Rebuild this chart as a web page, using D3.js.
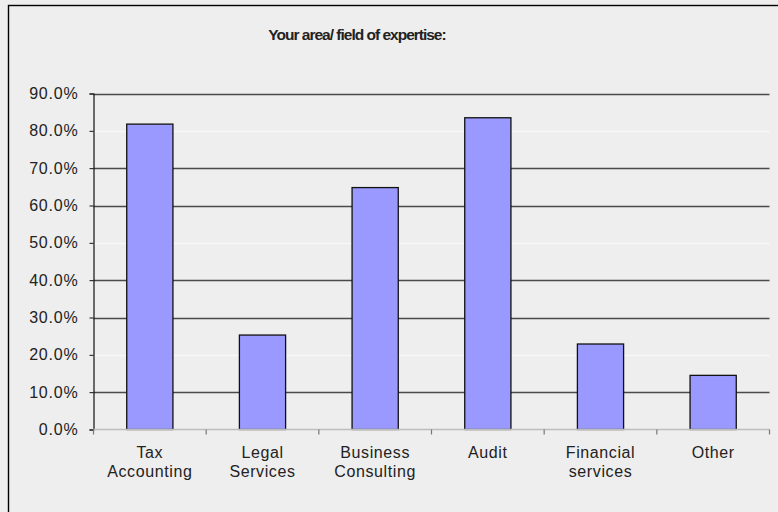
<!DOCTYPE html>
<html>
<head>
<meta charset="utf-8">
<script src="https://cdn.jsdelivr.net/npm/d3@7"></script>
<style>
  html, body { margin: 0; padding: 0; background: #eeeeee; }
  svg { display: block; }
  text { font-family: "Liberation Sans", Arial, sans-serif; fill: #222; }
</style>
</head>
<body>
<svg id="chart" width="778" height="512"></svg>
<script>
// Survey answers: share of respondents per area of expertise
const categories = [
  ["Tax", "Accounting"],
  ["Legal", "Services"],
  ["Business", "Consulting"],
  ["Audit"],
  ["Financial", "services"],
  ["Other"]
];
const values = [0.818, 0.253, 0.648, 0.835, 0.229, 0.145];
const yTicks = [0, 0.1, 0.2, 0.3, 0.4, 0.5, 0.6, 0.7, 0.8, 0.9];
const titleText = "Your area/ field of expertise:";

const W = 778, H = 512;
const plot = { left: 93.5, right: 769.5, top: 93.5, bottom: 429.5 };

const svg = d3.select("#chart");

// outer frame (runs off the right and bottom edges)
svg.append("rect")
  .attr("x", 8.5).attr("y", 5.5)
  .attr("width", W + 20).attr("height", H + 20)
  .attr("fill", "#eeeeee")
  .attr("stroke", "#000").attr("stroke-width", 1.4);

svg.append("text")
  .attr("x", 357).attr("y", 40)
  .attr("text-anchor", "middle")
  .attr("font-weight", "bold")
  .attr("font-size", 15.5)
  .attr("letter-spacing", -1)
  .attr("fill", "#111")
  .text(titleText);

const keys = categories.map(c => c.join(" "));
const x = d3.scaleBand().domain(keys)
  .range([plot.left, plot.right]).paddingInner(0.59).paddingOuter(0.295);
const xOuter = d3.scaleBand().domain(keys).range([plot.left, plot.right]);
const y = d3.scaleLinear().domain([0, 0.9]).range([plot.bottom, plot.top]);

// horizontal gridlines
svg.append("g").selectAll("line")
  .data(yTicks.filter(t => t > 0))
  .join("line")
  .attr("x1", plot.left).attr("x2", plot.right)
  .attr("y1", d => Math.round(y(d)) + 0.5).attr("y2", d => Math.round(y(d)) + 0.5)
  .attr("stroke", (d, i) => (i % 3 === 1 ? "#f8f8f8" : "#4a4a4a"))
  .attr("stroke-width", (d, i) => (i % 3 === 1 ? 1.6 : 1.3));

// bars
svg.append("g").selectAll("rect")
  .data(values)
  .join("rect")
  .attr("x", (d, i) => x(keys[i]))
  .attr("width", x.bandwidth())
  .attr("y", d => y(d))
  .attr("height", d => y(0) - y(d))
  .attr("fill", "#9999ff")
  .attr("stroke", "#111")
  .attr("stroke-width", 1.3);

// y axis
const yAxis = d3.axisLeft(y).tickValues(yTicks)
  .tickFormat(d3.format(".1%")).tickSize(4).tickPadding(11);
const gy = svg.append("g").attr("transform", `translate(${plot.left},0)`).call(yAxis);
gy.select(".domain").attr("stroke", "#111").attr("stroke-width", 1.2);
gy.selectAll(".tick line").attr("stroke", "#111");
gy.selectAll(".tick text")
  .attr("font-size", 16).attr("letter-spacing", 0.8)
  .attr("font-family", "Liberation Sans, Arial, sans-serif").attr("fill", "#2a2a2a");

// x axis: category boundary ticks
const xAxisLine = svg.append("g");
xAxisLine.append("line")
  .attr("x1", plot.left).attr("x2", plot.right)
  .attr("y1", plot.bottom).attr("y2", plot.bottom)
  .attr("stroke", "#bdbdbd").attr("stroke-width", 1.4);
const bounds = keys.map(k => xOuter(k)).concat([plot.right]);
xAxisLine.selectAll("line.b")
  .data(bounds)
  .join("line").attr("class", "b")
  .attr("x1", d => d).attr("x2", d => d)
  .attr("y1", plot.bottom).attr("y2", plot.bottom + 5)
  .attr("stroke", "#777").attr("stroke-width", 1.2);

// category labels
const lab = svg.append("g").selectAll("text")
  .data(categories)
  .join("text")
  .attr("text-anchor", "middle")
  .attr("font-size", 16)
  .attr("letter-spacing", 0.6)
  .attr("fill", "#2a2a2a")
  .attr("x", (d, i) => xOuter(keys[i]) + xOuter.bandwidth() / 2)
  .attr("y", 458);
lab.selectAll("tspan")
  .data(d => d)
  .join("tspan")
  .attr("x", function () { return this.parentNode.getAttribute("x"); })
  .attr("dy", (d, i) => (i === 0 ? 0 : 19))
  .text(d => d);
</script>
</body>
</html>
